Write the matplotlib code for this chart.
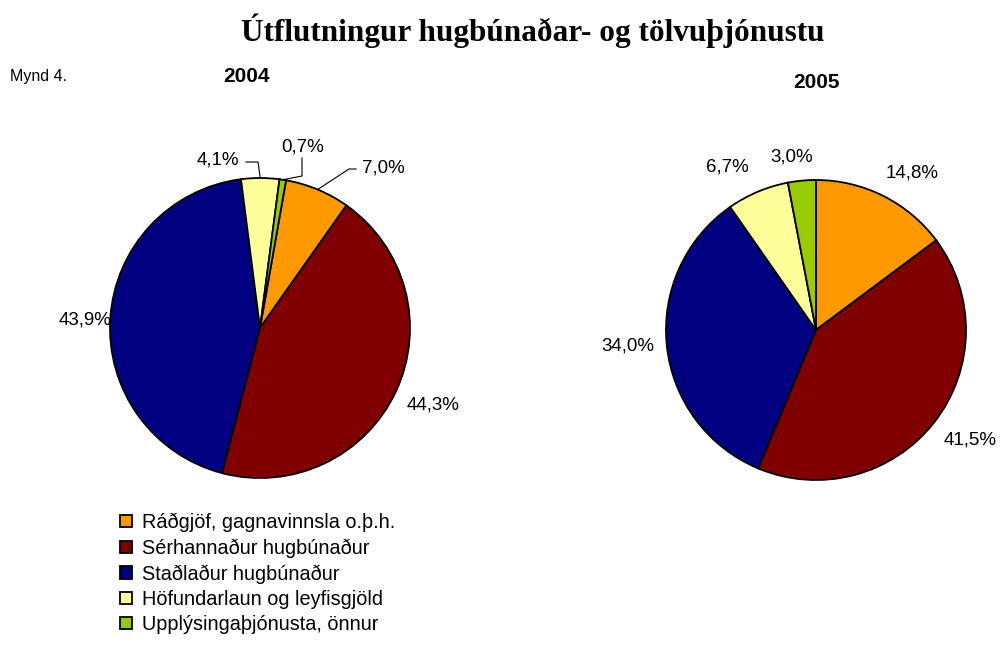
#!/usr/bin/env python3
"""Útflutningur hugbúnaðar- og tölvuþjónustu, 2004 vs 2005 (two pies)."""
import matplotlib
matplotlib.use('Agg')
import matplotlib.pyplot as plt
import numpy as np

categories = ['Ráðgjöf, gagnavinnsla o.þ.h.', 'Sérhannaður hugbúnaður',
              'Staðlaður hugbúnaður', 'Höfundarlaun og leyfisgjöld',
              'Upplýsingaþjónusta, önnur']
colors = ['#FF9900', '#800000', '#000080', '#FFFF99', '#99CC00']
years = ['2004', '2005']
share_2004 = [7.0, 44.3, 43.9, 4.1, 0.7]
share_2005 = [14.8, 41.5, 34.0, 6.7, 3.0]

W, H = 1002, 650
SANS = 'Liberation Sans'

fig = plt.figure(figsize=(W / 100, H / 100), dpi=100)
ax = fig.add_axes([0, 0, 1, 1])


def py(y):
    # pixel row -> data y
    return H - y


def pct(v):
    return f'{v:.1f}%'.replace('.', ',')


def arc_point(w, cx, cy, r):
    a = np.deg2rad((w.theta1 + w.theta2) / 2)
    return cx + r * np.cos(a), cy + r * np.sin(a)


R = 150
pies = [
    # year, values, centre (px), start angle, label centres (px), elbows for leaders
    (years[0], share_2004, (260, 328), 80,
     [(383, 168), (433, 405), (85, 320), (218, 160), (303, 147)],
     {0: [(349, 169), (356, 169)], 3: [(258, 162), (246, 162)],
      4: [(297, 177), (302, 176), (302, 158)]}),
    (years[1], share_2005, (816, 330), 90,
     [(912, 173), (970, 440), (628, 346), (727, 167), (792, 157)],
     {}),
]

legend_wedges = None
for year, vals, (cx, cyp), start, lab_pos, leaders in pies:
    cy = py(cyp)
    wedges, _ = ax.pie(vals, colors=colors, startangle=start, counterclock=False,
                       center=(cx, cy), radius=R, frame=True,
                       wedgeprops=dict(edgecolor='black', linewidth=1.3))
    if legend_wedges is None:
        legend_wedges = wedges
    for i, (v, (lx, ly)) in enumerate(zip(vals, lab_pos)):
        ax.text(lx, py(ly), pct(v), ha='center', va='center',
                fontsize=13.5, family=SANS, color='black')
        if i in leaders:
            x0, y0 = arc_point(wedges[i], cx, cy, R)
            xs = [x0] + [p[0] for p in leaders[i]]
            ys = [y0] + [py(p[1]) for p in leaders[i]]
            ax.plot(xs, ys, color='black', linewidth=0.8)

ax.set_xlim(0, W)
ax.set_ylim(0, H)
ax.set_aspect('equal')
ax.axis('off')

# titles
ax.text(533, py(31), 'Útflutningur hugbúnaðar- og tölvuþjónustu', ha='center',
        va='center', fontsize=22.5, fontweight='bold', family='Liberation Serif')
ax.text(10, py(77), 'Mynd 4.', ha='left', va='center', fontsize=11.5, family=SANS)
ax.text(247, py(77), years[0], ha='center', va='center', fontsize=15,
        fontweight='bold', family=SANS)
ax.text(817, py(83), years[1], ha='center', va='center', fontsize=15,
        fontweight='bold', family=SANS)

leg = ax.legend(legend_wedges, categories, loc='upper left',
                bbox_to_anchor=(120 / W, 1 - 513 / H), bbox_transform=fig.transFigure,
                frameon=False, prop=dict(family=SANS, size=14.3),
                handlelength=0.58, handleheight=0.58, handletextpad=0.55,
                labelspacing=0.32, borderpad=0, borderaxespad=0)
for h in leg.legend_handles:
    h.set_linewidth(1.3)

fig.savefig('out.png', dpi=100)
plt.close(fig)
